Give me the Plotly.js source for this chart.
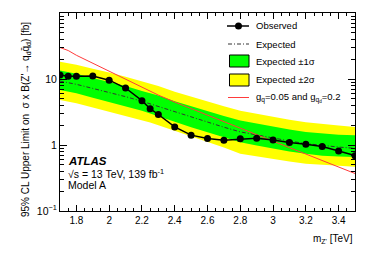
<!DOCTYPE html>
<html>
<head>
<meta charset="utf-8">
<script src="https://cdn.plot.ly/plotly-3.0.1.min.js"></script>
<style>html,body{margin:0;padding:0;background:#fff;}#chart{width:374px;height:253px;}</style>
</head>
<body>
<div id="chart"></div>
<script>
// ---- data ----
const mass      = [1.7, 1.75, 1.8, 1.9, 2.0, 2.1, 2.2, 2.25, 2.3, 2.4, 2.5, 2.6, 2.7, 2.8, 2.9, 3.0, 3.1, 3.2, 3.3, 3.4, 3.5];
const observed  = [11.5, 11.0, 11.0, 11.1, 9.6, 7.3, 4.7, 3.55, 2.9, 1.88, 1.41, 1.25, 1.18, 1.24, 1.27, 1.19, 1.09, 1.03, 0.95, 0.81, 0.69];
const expected  = [9.3, 8.9, 8.3, 7.2, 6.3, 5.4, 4.6, 4.2, 3.8, 3.16, 2.63, 2.19, 1.86, 1.58, 1.41, 1.26, 1.15, 1.05, 0.98, 0.93, 0.89];
const oneSigLo  = [6.8, 6.5, 6.1, 5.2, 4.5, 3.9, 3.3, 3.0, 2.75, 2.25, 1.85, 1.55, 1.3, 1.1, 0.98, 0.88, 0.8, 0.74, 0.69, 0.67, 0.66];
const oneSigHi  = [13.4, 12.8, 12.0, 10.4, 9.1, 7.8, 6.6, 6.1, 5.6, 4.6, 3.85, 3.2, 2.75, 2.35, 2.1, 1.88, 1.72, 1.58, 1.49, 1.43, 1.40];
const twoSigLo  = [4.8, 4.6, 4.3, 3.7, 3.2, 2.8, 2.4, 2.2, 2.0, 1.65, 1.35, 1.12, 0.92, 0.74, 0.67, 0.61, 0.56, 0.52, 0.5, 0.48, 0.47];
const twoSigHi  = [18.3, 17.5, 16.4, 14.3, 12.6, 10.8, 9.2, 8.5, 7.8, 6.4, 5.4, 4.5, 3.85, 3.3, 2.95, 2.65, 2.42, 2.22, 2.08, 1.97, 1.88];
const theory    = [30, 27, 22.9, 17.4, 13.2, 10.0, 7.5, 6.6, 5.7, 4.47, 3.55, 2.82, 2.24, 1.78, 1.44, 1.15, 0.91, 0.73, 0.585, 0.47, 0.37];
const yTickVals = [0.1, 1, 10];
const yTickText = ['10<sup>\u22121</sup>', '1', '10'];
const xTickVals = [1.8, 2.0, 2.2, 2.4, 2.6, 2.8, 3.0, 3.2, 3.4];
const xTickText = ['1.8', '2', '2.2', '2.4', '2.6', '2.8', '3', '3.2', '3.4'];
const legendLabels = ['Observed', 'Expected', 'Expected \u00b11\u03c3', 'Expected \u00b12\u03c3', 'g<sub>q</sub>=0.05 and g<sub>q<sub>d</sub></sub>=0.2'];
const yTitle = '95% CL Upper Limit on  \u03c3 x B(Z\'\u2192 q<sub>d</sub>q\u0304<sub>d</sub>) [fb]';
const xTitle = 'm<sub>Z\'</sub> [TeV]';

// ---- layout geometry ----
const W = 374, H = 253;
const M = {l: 60, r: 19, t: 13, b: 42};
const PW = W - M.l - M.r, PH = H - M.t - M.b;
const px = x => (x - M.l) / PW;          // pixel -> paper x
const py = y => (H - M.b - y) / PH;      // pixel -> paper y
const FONT = 'Liberation Sans, Arial, Helvetica, sans-serif';
const YELLOW = '#ffff00', GREEN = '#00ff00', RED = '#ff3b3b';

const traces = [
  {x: mass, y: twoSigHi, mode: 'lines', line: {width: 0, color: YELLOW}, showlegend: false, hoverinfo: 'skip'},
  {x: mass, y: twoSigLo, mode: 'lines', line: {width: 0, color: YELLOW}, fill: 'tonexty', fillcolor: YELLOW, showlegend: false, hoverinfo: 'skip'},
  {x: mass, y: oneSigHi, mode: 'lines', line: {width: 0, color: GREEN}, showlegend: false, hoverinfo: 'skip'},
  {x: mass, y: oneSigLo, mode: 'lines', line: {width: 0, color: GREEN}, fill: 'tonexty', fillcolor: GREEN, showlegend: false, hoverinfo: 'skip'},
  {x: mass, y: expected, mode: 'lines', line: {width: 1, color: '#333333', dash: '4px,2px,1px,2px'}, showlegend: false},
  {x: mass, y: theory, mode: 'lines', line: {width: 1, color: RED}, showlegend: false},
  {x: mass, y: observed, mode: 'lines+markers', line: {width: 1.5, color: '#000'}, marker: {size: 7, color: '#000'}, showlegend: false}
];

// ---- manual legend (ROOT style) ----
const shapes = [];
const annotations = [];
const legX0 = 228, legX1 = 249, legTextX = 254;
const rowsY = [26, 44, 61, 80, 97.5];
shapes.push({type: 'line', xref: 'paper', yref: 'paper', x0: px(legX0 - 1), x1: px(legX1), y0: py(rowsY[0]), y1: py(rowsY[0]), line: {color: '#000', width: 1.5}});
shapes.push({type: 'circle', xref: 'paper', yref: 'paper', x0: px(238.5 - 3.5), x1: px(238.5 + 3.5), y0: py(rowsY[0] + 3.5), y1: py(rowsY[0] - 3.5), fillcolor: '#000', line: {color: '#000', width: 0}});
shapes.push({type: 'line', xref: 'paper', yref: 'paper', x0: px(legX0), x1: px(legX1), y0: py(rowsY[1]), y1: py(rowsY[1]), line: {color: '#333333', width: 1, dash: '4px,2px,1px,2px'}});
shapes.push({type: 'rect', xref: 'paper', yref: 'paper', x0: px(229.5), x1: px(249), y0: py(67), y1: py(55), fillcolor: GREEN, line: {color: '#000', width: 1}});
shapes.push({type: 'rect', xref: 'paper', yref: 'paper', x0: px(229.5), x1: px(249), y0: py(86), y1: py(74), fillcolor: YELLOW, line: {color: '#000', width: 1}});
shapes.push({type: 'line', xref: 'paper', yref: 'paper', x0: px(legX0), x1: px(legX1), y0: py(rowsY[4]), y1: py(rowsY[4]), line: {color: RED, width: 1}});
legendLabels.forEach((t, i) => {
  annotations.push({text: t, xref: 'paper', yref: 'paper', x: px(legTextX), y: py(rowsY[i]), xanchor: 'left', yanchor: 'middle', showarrow: false, font: {family: FONT, size: 9.5, color: '#000'}});
});

// ATLAS label block
annotations.push({text: '<b><i>ATLAS</i></b>', xref: 'paper', yref: 'paper', x: px(66), y: py(161), xanchor: 'left', yanchor: 'middle', showarrow: false, font: {family: FONT, size: 11.5, color: '#000'}});
annotations.push({text: '\u221as = 13 TeV, 139 fb<sup>-1</sup>', xref: 'paper', yref: 'paper', x: px(66), y: py(173), xanchor: 'left', yanchor: 'middle', showarrow: false, font: {family: FONT, size: 10.5, color: '#000'}});
annotations.push({text: 'Model A', xref: 'paper', yref: 'paper', x: px(66), y: py(185), xanchor: 'left', yanchor: 'middle', showarrow: false, font: {family: FONT, size: 10.5, color: '#000'}});
// axis titles (ROOT style: x title right aligned, y title rotated)
annotations.push({text: xTitle, xref: 'paper', yref: 'paper', x: 1, y: py(239), xanchor: 'right', yanchor: 'middle', showarrow: false, font: {family: FONT, size: 10, color: '#000'}});
annotations.push({text: yTitle, xref: 'paper', yref: 'paper', x: px(26), y: py(120), textangle: -90, xanchor: 'center', yanchor: 'middle', showarrow: false, font: {family: FONT, size: 10, color: '#000'}});

const layout = {
  width: W, height: H,
  margin: M,
  paper_bgcolor: '#fff', plot_bgcolor: '#fff',
  font: {family: FONT, size: 10, color: '#000'},
  showlegend: false,
  xaxis: {
    range: [1.7, 3.5], showgrid: false, zeroline: false,
    showline: true, linecolor: '#000', linewidth: 1, mirror: 'allticks',
    ticks: 'inside', ticklen: 6, tickcolor: '#000', tickwidth: 1,
    tickmode: 'array', tickvals: xTickVals, ticktext: xTickText,
    tickfont: {family: FONT, size: 10},
    minor: {ticks: 'inside', ticklen: 3, tickcolor: '#000', dtick: 0.05, tick0: 1.7, showgrid: false}
  },
  yaxis: {
    type: 'log', range: [-1, 2], showgrid: false, zeroline: false,
    showline: true, linecolor: '#000', linewidth: 1, mirror: 'allticks',
    ticks: 'inside', ticklen: 7, tickcolor: '#000', tickwidth: 1,
    tickmode: 'array', tickvals: yTickVals, ticktext: yTickText,
    tickfont: {family: FONT, size: 10.5},
    minor: {ticks: 'inside', ticklen: 4, tickcolor: '#000', dtick: 'D1', showgrid: false}
  },
  shapes: shapes,
  annotations: annotations
};

Plotly.newPlot('chart', traces, layout, {staticPlot: true, displayModeBar: false});
</script>
</body>
</html>
